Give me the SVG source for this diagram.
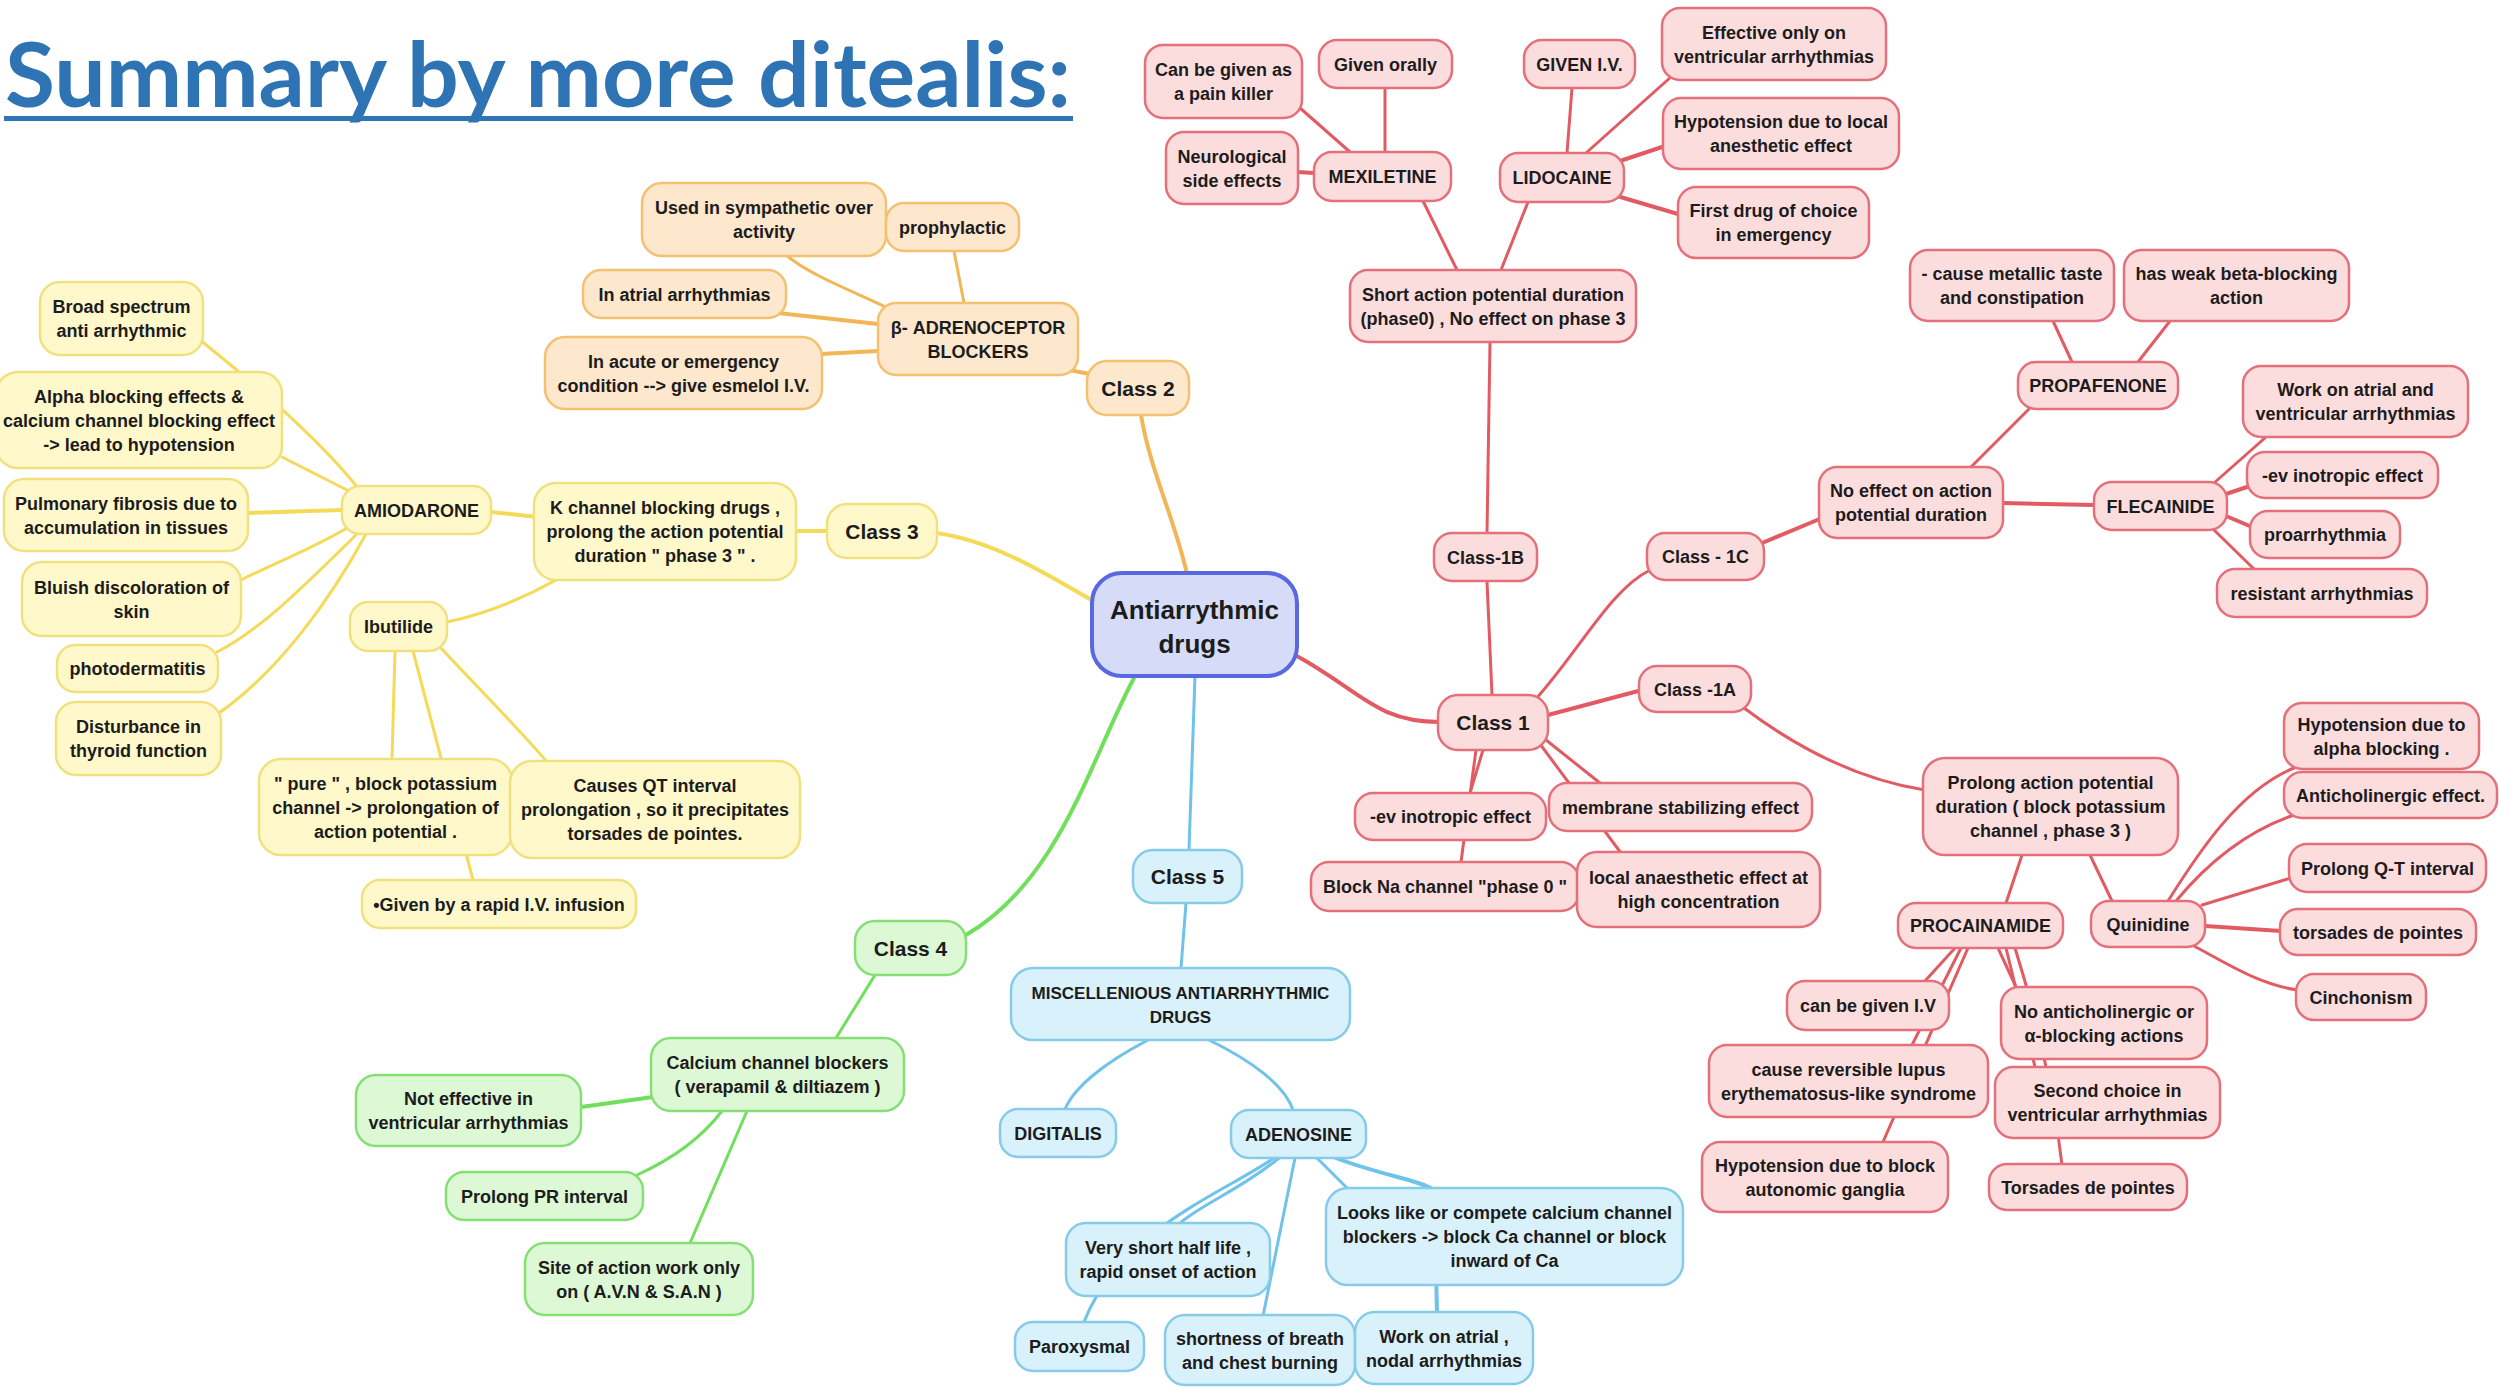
<svg xmlns="http://www.w3.org/2000/svg" width="2499" height="1387" viewBox="0 0 2499 1387">
<style>
  .bg{fill:#ffffff}
  rect.n{stroke-width:2.5}
  .red{fill:#FCDDDE;stroke:#E3707A}
  .org{fill:#FDE7CD;stroke:#F3C170}
  .yel{fill:#FFF8CB;stroke:#F1E17E}
  .grn{fill:#DCF8D5;stroke:#84E075}
  .cya{fill:#D9F1FA;stroke:#86CBE8}
  .ctr{fill:#D6DCF8;stroke:#5868E0;stroke-width:4}
  text{font-family:"Liberation Sans",Arial,sans-serif;font-weight:bold;fill:#1c1c1c;text-anchor:middle}
  .t{font-size:18px}
  .tc{font-size:21px}
  .tm{font-size:17px}
  .tx{font-size:26px}
  .title{font-family:Lato,"Open Sans",sans-serif;font-size:90px;fill:#2E74B5;text-anchor:start}
  path.e{fill:none;stroke-width:3;stroke-linecap:round}
  path.m{stroke-width:4}
  .er{stroke:#E25B63}
  .eo{stroke:#F2B657}
  .ey{stroke:#F5DA58}
  .eg{stroke:#70DF5C}
  .ec{stroke:#6FC2EA}
</style>
<rect class="bg" x="0" y="0" width="2499" height="1387"/>

<g id="title">
  <text class="title" x="5" y="107" textLength="1066" lengthAdjust="spacingAndGlyphs">Summary by more ditealis:</text>
  <rect x="4" y="116" width="1069" height="5" fill="#2E75B6"/>
</g>

<g id="connectors">
  <!-- red / class 1 -->
  <path class="e m er" d="M1295,655 C1360,690 1375,722 1440,722"/>
  <path class="e er" d="M1492,695 L1487,581"/>
  <path class="e er" d="M1487,533 L1490,342"/>
  <path class="e er" d="M1457,270 L1423,201"/>
  <path class="e er" d="M1501,270 L1528,202"/>
  <path class="e er" d="M1350,152 L1300,108"/>
  <path class="e er" d="M1385,152 L1385,88"/>
  <path class="e m er" d="M1314,173 L1297,172"/>
  <path class="e er" d="M1567,153 L1572,88"/>
  <path class="e er" d="M1586,153 L1672,76"/>
  <path class="e m er" d="M1617,162 L1665,146"/>
  <path class="e m er" d="M1617,196 L1678,214"/>
  <path class="e er" d="M1535,700 C1580,650 1610,590 1650,570"/>
  <path class="e m er" d="M1762,543 L1822,518"/>
  <path class="e er" d="M1971,467 L2029,409"/>
  <path class="e er" d="M2072,362 L2053,321"/>
  <path class="e er" d="M2138,362 L2170,321"/>
  <path class="e m er" d="M2003,503 L2094,505"/>
  <path class="e er" d="M2214,483 L2266,437"/>
  <path class="e m er" d="M2226,494 L2250,486"/>
  <path class="e m er" d="M2226,516 L2252,527"/>
  <path class="e er" d="M2214,530 L2254,569"/>
  <path class="e m er" d="M1548,715 L1642,690"/>
  <path class="e er" d="M1744,708 C1800,750 1860,780 1925,790"/>
  <path class="e er" d="M1483,750 L1470,793"/>
  <path class="e er" d="M1476,750 L1461,862"/>
  <path class="e er" d="M1546,740 L1600,783"/>
  <path class="e er" d="M1540,744 L1621,853"/>
  <path class="e er" d="M2022,855 L2006,903"/>
  <path class="e er" d="M2090,855 L2112,901"/>
  <path class="e er" d="M2168,901 C2200,850 2240,790 2294,768"/>
  <path class="e er" d="M2176,901 C2210,860 2250,830 2294,815"/>
  <path class="e er" d="M2202,905 L2291,878"/>
  <path class="e m er" d="M2205,926 L2281,931"/>
  <path class="e er" d="M2192,945 C2230,965 2260,985 2298,990"/>
  <path class="e er" d="M1955,948 L1925,981"/>
  <path class="e er" d="M1961,948 L1912,1045"/>
  <path class="e er" d="M1968,948 L1883,1142"/>
  <path class="e er" d="M1998,948 L2016,987"/>
  <path class="e er" d="M2006,948 L2035,1067"/>
  <path class="e er" d="M2015,948 Q2050,1060 2062,1165"/>
  <!-- orange / class 2 -->
  <path class="e m eo" d="M1187,574 C1175,520 1150,470 1141,415"/>
  <path class="e m eo" d="M1069,370 L1090,374"/>
  <path class="e eo" d="M888,308 C850,290 810,275 786,255"/>
  <path class="e eo" d="M964,303 L954,251"/>
  <path class="e m eo" d="M878,324 L778,313"/>
  <path class="e m eo" d="M878,351 L821,354"/>
  <!-- yellow / class 3 -->
  <path class="e m ey" d="M1093,601 C1040,570 990,540 936,533"/>
  <path class="e m ey" d="M827,531 L796,531"/>
  <path class="e m ey" d="M537,517 L491,512"/>
  <path class="e ey" d="M556,580 C520,600 480,615 447,622"/>
  <path class="e ey" d="M358,488 C320,440 250,380 200,340"/>
  <path class="e ey" d="M347,490 L282,457"/>
  <path class="e m ey" d="M342,510 L247,513"/>
  <path class="e ey" d="M347,528 C310,550 270,565 241,580"/>
  <path class="e ey" d="M358,533 C300,590 260,630 217,652"/>
  <path class="e ey" d="M366,534 C330,600 280,670 219,713"/>
  <path class="e ey" d="M395,651 L392,759"/>
  <path class="e ey" d="M413,651 L473,880"/>
  <path class="e ey" d="M440,647 C480,690 520,730 547,762"/>
  <!-- green / class 4 -->
  <path class="e m eg" d="M1135,676 C1090,760 1060,880 966,935"/>
  <path class="e eg" d="M875,975 L836,1038"/>
  <path class="e m eg" d="M653,1097 L581,1107"/>
  <path class="e eg" d="M722,1111 C700,1140 670,1160 637,1175"/>
  <path class="e eg" d="M747,1111 L690,1243"/>
  <!-- cyan / class 5 -->
  <path class="e ec" d="M1195,676 L1189,850"/>
  <path class="e ec" d="M1186,903 L1181,968"/>
  <path class="e ec" d="M1148,1040 C1110,1060 1075,1085 1065,1109"/>
  <path class="e ec" d="M1209,1040 C1250,1060 1285,1085 1293,1110"/>
  <path class="e ec" d="M1279,1158 C1240,1190 1200,1205 1179,1224"/>
  <path class="e ec" d="M1274,1158 C1220,1195 1120,1230 1084,1322"/>
  <path class="e ec" d="M1295,1158 L1263,1316"/>
  <path class="e ec" d="M1317,1158 L1347,1188"/>
  <path class="e m ec" d="M1336,1158 C1380,1175 1420,1180 1434,1190 L1437,1313"/>
</g>

<!-- center -->
<g id="n-center"><rect class="ctr" x="1092" y="573" width="205" height="103" rx="30"/><text class="tx"><tspan x="1194.5" y="619">Antiarrythmic</tspan><tspan x="1194.5" y="653">drugs</tspan></text></g>

<!-- red nodes -->
<g id="n-can-be-given"><rect class="n red" x="1145" y="45" width="157" height="73" rx="18"/><text class="t"><tspan x="1223.5" y="76">Can be given as</tspan><tspan x="1223.5" y="100">a pain killer</tspan></text></g>
<g id="n-given-orally"><rect class="n red" x="1319" y="40" width="133" height="48" rx="18"/><text class="t" x="1385.5" y="70.5">Given orally</text></g>
<g id="n-given-iv"><rect class="n red" x="1524" y="40" width="111" height="48" rx="18"/><text class="t" x="1579.5" y="70.5">GIVEN I.V.</text></g>
<g id="n-effective-only"><rect class="n red" x="1662" y="8" width="224" height="72" rx="18"/><text class="t"><tspan x="1774" y="38.5">Effective only on</tspan><tspan x="1774" y="62.5">ventricular arrhythmias</tspan></text></g>
<g id="n-hypotension-local"><rect class="n red" x="1663" y="98" width="236" height="71" rx="18"/><text class="t"><tspan x="1781" y="128">Hypotension due to local</tspan><tspan x="1781" y="152">anesthetic effect</tspan></text></g>
<g id="n-first-drug"><rect class="n red" x="1678" y="187" width="191" height="71" rx="18"/><text class="t"><tspan x="1773.5" y="217">First drug of choice</tspan><tspan x="1773.5" y="241">in emergency</tspan></text></g>
<g id="n-neurological"><rect class="n red" x="1166" y="132" width="132" height="72" rx="18"/><text class="t"><tspan x="1232" y="162.5">Neurological</tspan><tspan x="1232" y="186.5">side effects</tspan></text></g>
<g id="n-mexiletine"><rect class="n red" x="1314" y="152" width="137" height="49" rx="18"/><text class="t" x="1382.5" y="183">MEXILETINE</text></g>
<g id="n-lidocaine"><rect class="n red" x="1500" y="153" width="124" height="49" rx="18"/><text class="t" x="1562" y="184">LIDOCAINE</text></g>
<g id="n-short-apd"><rect class="n red" x="1350" y="270" width="286" height="72" rx="18"/><text class="t"><tspan x="1493" y="300.5">Short action potential duration</tspan><tspan x="1493" y="324.5">(phase0) , No effect on phase 3</tspan></text></g>
<g id="n-class-1b"><rect class="n red" x="1434" y="533" width="103" height="48" rx="18"/><text class="t" x="1485.5" y="563.5">Class-1B</text></g>
<g id="n-class-1"><rect class="n red" x="1438" y="695" width="110" height="55" rx="20"/><text class="tc" x="1493" y="730">Class 1</text></g>
<g id="n-class-1c"><rect class="n red" x="1647" y="533" width="117" height="47" rx="18"/><text class="t" x="1705.5" y="563">Class - 1C</text></g>
<g id="n-no-effect-apd"><rect class="n red" x="1819" y="467" width="184" height="71" rx="18"/><text class="t"><tspan x="1911" y="497">No effect on action</tspan><tspan x="1911" y="521">potential duration</tspan></text></g>
<g id="n-propafenone"><rect class="n red" x="2018" y="362" width="160" height="47" rx="18"/><text class="t" x="2098" y="392">PROPAFENONE</text></g>
<g id="n-metallic-taste"><rect class="n red" x="1910" y="250" width="204" height="71" rx="18"/><text class="t"><tspan x="2012" y="280">- cause metallic taste</tspan><tspan x="2012" y="304">and constipation</tspan></text></g>
<g id="n-weak-beta"><rect class="n red" x="2124" y="250" width="225" height="71" rx="18"/><text class="t"><tspan x="2236.5" y="280">has weak beta-blocking</tspan><tspan x="2236.5" y="304">action</tspan></text></g>
<g id="n-flecainide"><rect class="n red" x="2094" y="482" width="133" height="48" rx="18"/><text class="t" x="2160.5" y="512.5">FLECAINIDE</text></g>
<g id="n-work-atrial-vent"><rect class="n red" x="2243" y="366" width="225" height="71" rx="18"/><text class="t"><tspan x="2355.5" y="396">Work on atrial and</tspan><tspan x="2355.5" y="420">ventricular arrhythmias</tspan></text></g>
<g id="n-flec-inotropic"><rect class="n red" x="2247" y="452" width="191" height="46" rx="18"/><text class="t" x="2342.5" y="481.5">-ev inotropic effect</text></g>
<g id="n-proarrhythmia"><rect class="n red" x="2250" y="511" width="150" height="47" rx="18"/><text class="t" x="2325" y="541">proarrhythmia</text></g>
<g id="n-resistant"><rect class="n red" x="2217" y="569" width="210" height="48" rx="18"/><text class="t" x="2322" y="599.5">resistant arrhythmias</text></g>
<g id="n-class-1a"><rect class="n red" x="1639" y="666" width="112" height="46" rx="18"/><text class="t" x="1695" y="695.5">Class -1A</text></g>
<g id="n-prolong-apd"><rect class="n red" x="1923" y="758" width="255" height="97" rx="22"/><text class="t"><tspan x="2050.5" y="789">Prolong action potential</tspan><tspan x="2050.5" y="813">duration ( block potassium</tspan><tspan x="2050.5" y="837">channel , phase 3 )</tspan></text></g>
<g id="n-class1-inotropic"><rect class="n red" x="1355" y="793" width="191" height="47" rx="18"/><text class="t" x="1450.5" y="823">-ev inotropic effect</text></g>
<g id="n-membrane"><rect class="n red" x="1549" y="783" width="263" height="48" rx="18"/><text class="t" x="1680.5" y="813.5">membrane stabilizing effect</text></g>
<g id="n-block-na"><rect class="n red" x="1311" y="862" width="268" height="49" rx="18"/><text class="t" x="1445" y="893">Block Na channel "phase 0 "</text></g>
<g id="n-local-anaesthetic"><rect class="n red" x="1577" y="852" width="243" height="75" rx="20"/><text class="t"><tspan x="1698.5" y="884">local anaesthetic effect at</tspan><tspan x="1698.5" y="908">high concentration</tspan></text></g>
<g id="n-procainamide"><rect class="n red" x="1898" y="903" width="165" height="45" rx="18"/><text class="t" x="1980.5" y="932">PROCAINAMIDE</text></g>
<g id="n-quinidine"><rect class="n red" x="2091" y="901" width="114" height="46" rx="18"/><text class="t" x="2148" y="930.5">Quinidine</text></g>
<g id="n-hypotension-alpha"><rect class="n red" x="2284" y="703" width="195" height="66" rx="18"/><text class="t"><tspan x="2381.5" y="730.5">Hypotension due to</tspan><tspan x="2381.5" y="754.5">alpha blocking .</tspan></text></g>
<g id="n-anticholinergic"><rect class="n red" x="2284" y="772" width="213" height="46" rx="18"/><text class="t" x="2390.5" y="801.5">Anticholinergic effect.</text></g>
<g id="n-prolong-qt"><rect class="n red" x="2289" y="844" width="197" height="48" rx="18"/><text class="t" x="2387.5" y="874.5">Prolong Q-T interval</text></g>
<g id="n-torsades-q"><rect class="n red" x="2280" y="909" width="196" height="46" rx="18"/><text class="t" x="2378" y="938.5">torsades de pointes</text></g>
<g id="n-cinchonism"><rect class="n red" x="2296" y="974" width="130" height="46" rx="18"/><text class="t" x="2361" y="1003.5">Cinchonism</text></g>
<g id="n-can-be-iv"><rect class="n red" x="1787" y="981" width="162" height="49" rx="18"/><text class="t" x="1868" y="1012">can be given I.V</text></g>
<g id="n-no-anticholinergic"><rect class="n red" x="2001" y="987" width="206" height="72" rx="18"/><text class="t"><tspan x="2104" y="1017.5">No anticholinergic or</tspan><tspan x="2104" y="1041.5">α-blocking actions</tspan></text></g>
<g id="n-lupus"><rect class="n red" x="1709" y="1045" width="279" height="72" rx="18"/><text class="t"><tspan x="1848.5" y="1075.5">cause reversible lupus</tspan><tspan x="1848.5" y="1099.5">erythematosus-like syndrome</tspan></text></g>
<g id="n-second-choice"><rect class="n red" x="1995" y="1067" width="225" height="71" rx="18"/><text class="t"><tspan x="2107.5" y="1097">Second choice in</tspan><tspan x="2107.5" y="1121">ventricular arrhythmias</tspan></text></g>
<g id="n-hypotension-ganglia"><rect class="n red" x="1702" y="1142" width="246" height="70" rx="18"/><text class="t"><tspan x="1825" y="1171.5">Hypotension due to block</tspan><tspan x="1825" y="1195.5">autonomic ganglia</tspan></text></g>
<g id="n-torsades-p"><rect class="n red" x="1989" y="1164" width="198" height="46" rx="18"/><text class="t" x="2088" y="1193.5">Torsades de pointes</text></g>

<!-- orange nodes -->
<g id="n-class-2"><rect class="n org" x="1087" y="361" width="102" height="54" rx="20"/><text class="tc" x="1138" y="395.5">Class 2</text></g>
<g id="n-beta-blockers"><rect class="n org" x="878" y="303" width="200" height="72" rx="18"/><text class="t"><tspan x="978" y="333.5">β- ADRENOCEPTOR</tspan><tspan x="978" y="357.5">BLOCKERS</tspan></text></g>
<g id="n-sympathetic"><rect class="n org" x="642" y="183" width="244" height="73" rx="20"/><text class="t"><tspan x="764" y="214">Used in sympathetic over</tspan><tspan x="764" y="238">activity</tspan></text></g>
<g id="n-prophylactic"><rect class="n org" x="886" y="203" width="133" height="48" rx="18"/><text class="t" x="952.5" y="233.5">prophylactic</text></g>
<g id="n-atrial-arr"><rect class="n org" x="583" y="270" width="203" height="48" rx="18"/><text class="t" x="684.5" y="300.5">In atrial arrhythmias</text></g>
<g id="n-acute"><rect class="n org" x="545" y="337" width="277" height="72" rx="20"/><text class="t"><tspan x="683.5" y="367.5">In acute or emergency</tspan><tspan x="683.5" y="391.5">condition --&gt; give esmelol I.V.</tspan></text></g>

<!-- yellow nodes -->
<g id="n-class-3"><rect class="n yel" x="827" y="504" width="110" height="54" rx="20"/><text class="tc" x="882" y="538.5">Class 3</text></g>
<g id="n-k-channel"><rect class="n yel" x="534" y="483" width="262" height="97" rx="22"/><text class="t"><tspan x="665" y="514">K channel blocking drugs ,</tspan><tspan x="665" y="538">prolong the action potential</tspan><tspan x="665" y="562">duration " phase 3 " .</tspan></text></g>
<g id="n-amiodarone"><rect class="n yel" x="342" y="486" width="149" height="48" rx="18"/><text class="t" x="416.5" y="516.5">AMIODARONE</text></g>
<g id="n-broad"><rect class="n yel" x="40" y="282" width="163" height="73" rx="20"/><text class="t"><tspan x="121.5" y="313">Broad spectrum</tspan><tspan x="121.5" y="337">anti arrhythmic</tspan></text></g>
<g id="n-alpha-ca"><rect class="n yel" x="-4" y="372" width="286" height="96" rx="22"/><text class="t"><tspan x="139" y="402.5">Alpha blocking effects &amp;</tspan><tspan x="139" y="426.5">calcium channel blocking effect</tspan><tspan x="139" y="450.5">-&gt; lead to hypotension</tspan></text></g>
<g id="n-pulmonary"><rect class="n yel" x="4" y="479" width="244" height="72" rx="20"/><text class="t"><tspan x="126" y="509.5">Pulmonary fibrosis due to</tspan><tspan x="126" y="533.5">accumulation in tissues</tspan></text></g>
<g id="n-bluish"><rect class="n yel" x="22" y="562" width="219" height="74" rx="20"/><text class="t"><tspan x="131.5" y="593.5">Bluish discoloration of</tspan><tspan x="131.5" y="617.5">skin</tspan></text></g>
<g id="n-photo"><rect class="n yel" x="57" y="645" width="161" height="47" rx="18"/><text class="t" x="137.5" y="675">photodermatitis</text></g>
<g id="n-thyroid"><rect class="n yel" x="56" y="702" width="165" height="73" rx="20"/><text class="t"><tspan x="138.5" y="733">Disturbance in</tspan><tspan x="138.5" y="757">thyroid function</tspan></text></g>
<g id="n-ibutilide"><rect class="n yel" x="350" y="602" width="97" height="49" rx="18"/><text class="t" x="398.5" y="633">Ibutilide</text></g>
<g id="n-pure"><rect class="n yel" x="259" y="759" width="253" height="96" rx="22"/><text class="t"><tspan x="385.5" y="789.5">" pure " , block potassium</tspan><tspan x="385.5" y="813.5">channel -&gt; prolongation of</tspan><tspan x="385.5" y="837.5">action potential .</tspan></text></g>
<g id="n-causes-qt"><rect class="n yel" x="510" y="761" width="290" height="97" rx="22"/><text class="t"><tspan x="655" y="792">Causes QT interval</tspan><tspan x="655" y="816">prolongation , so it precipitates</tspan><tspan x="655" y="840">torsades de pointes.</tspan></text></g>
<g id="n-rapid-iv"><rect class="n yel" x="362" y="880" width="274" height="48" rx="18"/><text class="t" x="499" y="910.5">•Given by a rapid I.V. infusion</text></g>

<!-- green nodes -->
<g id="n-class-4"><rect class="n grn" x="855" y="921" width="111" height="54" rx="20"/><text class="tc" x="910.5" y="955.5">Class 4</text></g>
<g id="n-ccb"><rect class="n grn" x="651" y="1038" width="253" height="73" rx="20"/><text class="t"><tspan x="777.5" y="1069">Calcium channel blockers</tspan><tspan x="777.5" y="1093">( verapamil &amp; diltiazem )</tspan></text></g>
<g id="n-not-effective"><rect class="n grn" x="356" y="1075" width="225" height="71" rx="20"/><text class="t"><tspan x="468.5" y="1105">Not effective in</tspan><tspan x="468.5" y="1129">ventricular arrhythmias</tspan></text></g>
<g id="n-prolong-pr"><rect class="n grn" x="446" y="1172" width="197" height="48" rx="18"/><text class="t" x="544.5" y="1202.5">Prolong PR interval</text></g>
<g id="n-site"><rect class="n grn" x="525" y="1243" width="228" height="72" rx="20"/><text class="t"><tspan x="639" y="1273.5">Site of action work only</tspan><tspan x="639" y="1297.5">on ( A.V.N &amp; S.A.N )</tspan></text></g>

<!-- cyan nodes -->
<g id="n-class-5"><rect class="n cya" x="1133" y="850" width="109" height="53" rx="20"/><text class="tc" x="1187.5" y="884">Class 5</text></g>
<g id="n-misc"><rect class="n cya" x="1011" y="968" width="339" height="72" rx="22"/><text class="tm"><tspan x="1180.5" y="998.5">MISCELLENIOUS ANTIARRHYTHMIC</tspan><tspan x="1180.5" y="1022.5">DRUGS</tspan></text></g>
<g id="n-digitalis"><rect class="n cya" x="1000" y="1109" width="116" height="48" rx="18"/><text class="t" x="1058" y="1139.5">DIGITALIS</text></g>
<g id="n-adenosine"><rect class="n cya" x="1231" y="1110" width="135" height="48" rx="18"/><text class="t" x="1298.5" y="1140.5">ADENOSINE</text></g>
<g id="n-short-half"><rect class="n cya" x="1066" y="1223" width="204" height="73" rx="20"/><text class="t"><tspan x="1168" y="1254">Very short half life ,</tspan><tspan x="1168" y="1278">rapid onset of action</tspan></text></g>
<g id="n-looks-like"><rect class="n cya" x="1326" y="1188" width="357" height="97" rx="22"/><text class="t"><tspan x="1504.5" y="1219">Looks like or compete calcium channel</tspan><tspan x="1504.5" y="1243">blockers -&gt; block Ca channel or block</tspan><tspan x="1504.5" y="1267">inward of Ca</tspan></text></g>
<g id="n-paroxysmal"><rect class="n cya" x="1015" y="1322" width="129" height="49" rx="18"/><text class="t" x="1079.5" y="1353">Paroxysmal</text></g>
<g id="n-shortness"><rect class="n cya" x="1165" y="1315" width="190" height="70" rx="20"/><text class="t"><tspan x="1260" y="1344.5">shortness of breath</tspan><tspan x="1260" y="1368.5">and chest burning</tspan></text></g>
<g id="n-work-nodal"><rect class="n cya" x="1355" y="1312" width="178" height="72" rx="20"/><text class="t"><tspan x="1444" y="1342.5">Work on atrial ,</tspan><tspan x="1444" y="1366.5">nodal arrhythmias</tspan></text></g>
</svg>
